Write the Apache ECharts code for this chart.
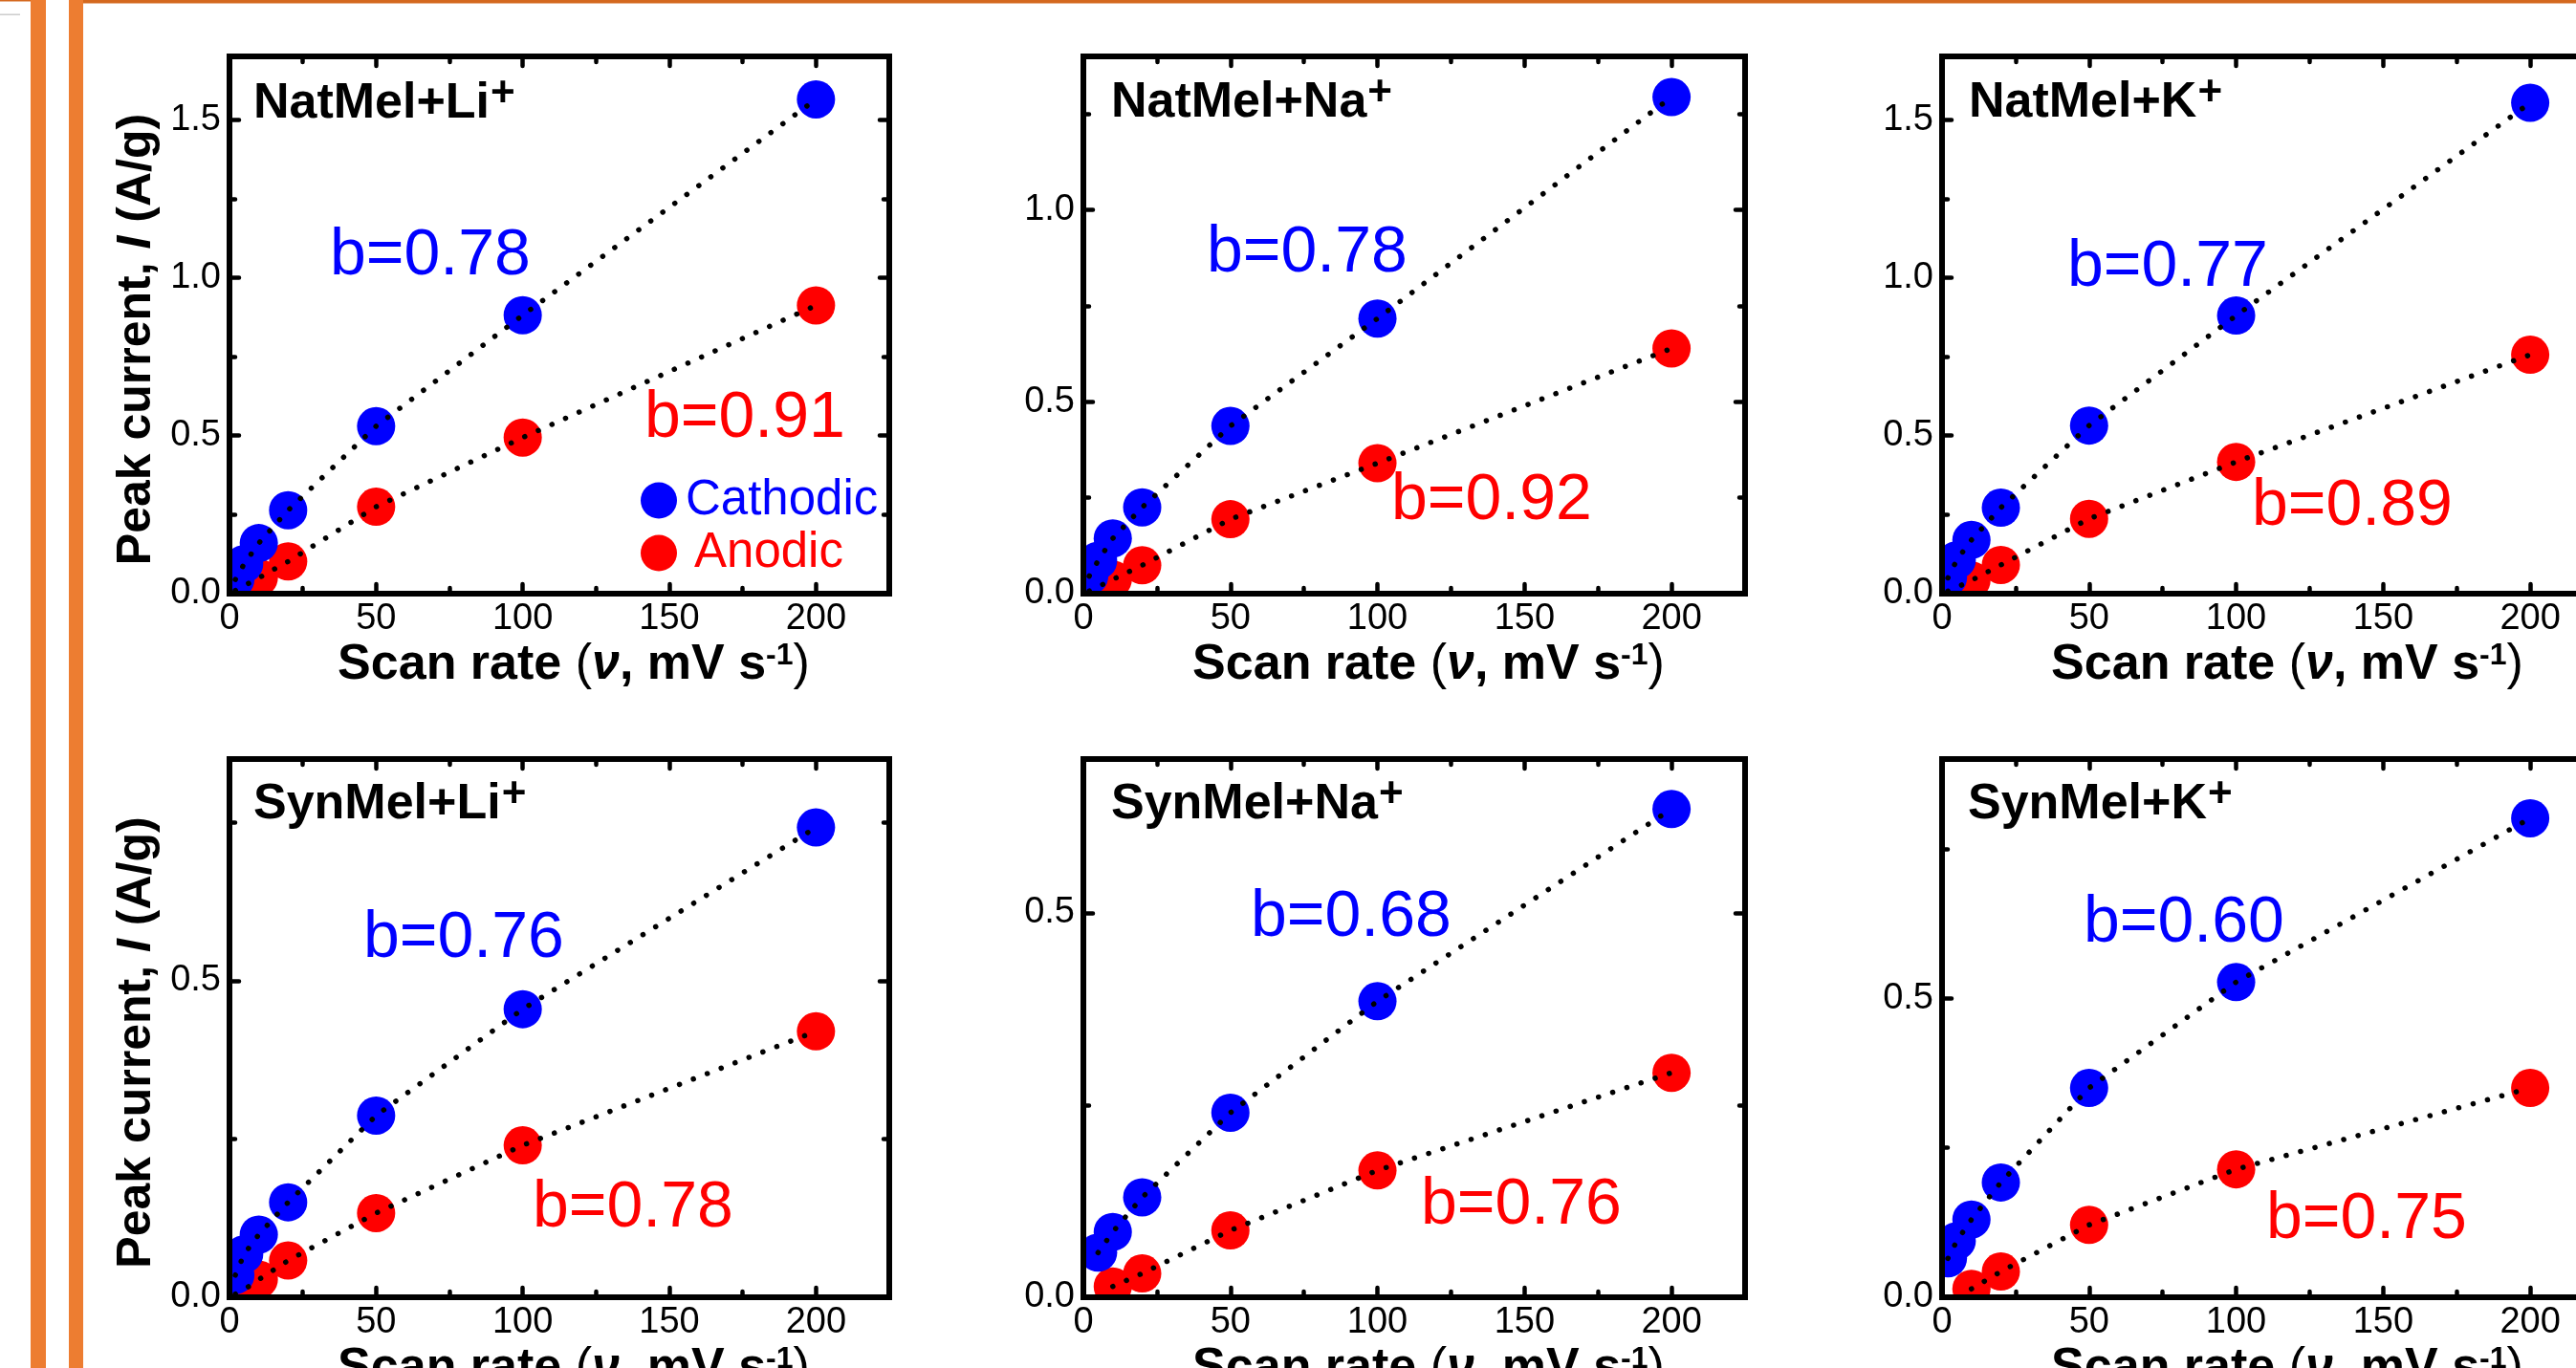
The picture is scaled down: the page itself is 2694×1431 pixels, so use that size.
<!DOCTYPE html>
<html><head><meta charset="utf-8">
<script src="https://cdn.jsdelivr.net/npm/echarts@6/dist/echarts.min.js"></script>
<style>html,body{margin:0;padding:0;background:#fff}#c{width:2694px;height:1431px}</style>
</head><body><div id="c"></div>
<script>
// ---------------- DATA ----------------
const scanRates = [2, 5, 10, 20, 50, 100, 200];
const panelTitles = ['NatMel+Li', 'NatMel+Na', 'NatMel+K', 'SynMel+Li', 'SynMel+Na', 'SynMel+K'];
const xTickLabels = [0, 50, 100, 150, 200];
const yMaxes = [1.7, 1.4, 1.7, 0.85, 0.7, 0.9];

const cathodicNatLi = [0.045, 0.094, 0.160, 0.264, 0.530, 0.881, 1.564];
const anodicNatLi   = [0.010, 0.025, 0.050, 0.102, 0.275, 0.494, 0.912];
const cathodicNatNa = [0.046, 0.086, 0.144, 0.225, 0.437, 0.717, 1.294];
const anodicNatNa   = [0.007, 0.018, 0.037, 0.074, 0.194, 0.340, 0.639];
const cathodicNatK  = [0.050, 0.106, 0.170, 0.272, 0.532, 0.880, 1.553];
const anodicNatK    = [0.008, 0.020, 0.042, 0.091, 0.237, 0.417, 0.756];
const cathodicSynLi = [0.035, 0.068, 0.099, 0.150, 0.287, 0.455, 0.742];
const anodicSynLi   = [0.005, 0.012, 0.028, 0.058, 0.133, 0.240, 0.420];
const cathodicSynNa = [null, 0.058, 0.085, 0.130, 0.240, 0.385, 0.635];
const anodicSynNa   = [null, null, 0.014, 0.031, 0.087, 0.165, 0.292];
const cathodicSynK  = [0.065, 0.094, 0.130, 0.192, 0.350, 0.527, 0.801];
const anodicSynK    = [null, null, 0.014, 0.043, 0.121, 0.214, 0.350];

const bCathodic = ['b=0.78', 'b=0.78', 'b=0.77', 'b=0.76', 'b=0.68', 'b=0.60'];
const bAnodic   = ['b=0.91', 'b=0.92', 'b=0.89', 'b=0.78', 'b=0.76', 'b=0.75'];

const cathodicSets = [cathodicNatLi, cathodicNatNa, cathodicNatK, cathodicSynLi, cathodicSynNa, cathodicSynK];
const anodicSets   = [anodicNatLi, anodicNatNa, anodicNatK, anodicSynLi, anodicSynNa, anodicSynK];

// ---------------- LAYOUT / STYLE ----------------
const FONT = '"Liberation Sans", Arial, Helvetica, sans-serif';
const BLUE = '#0000ff', RED = '#ff0000';
const colL = [240, 1133, 2031], colW = [690, 692, 692];
const rowT = [59, 794], rowH = [562, 563];
const titleX = [265, 1162, 2059, 265, 1162, 2058];
const titleBase = [125, 124, 124, 858, 858, 858];
const bCathPos = [[345, 268], [1262, 265], [2162, 280], [380, 982], [1308, 960], [2179, 966]];
const bAnodPos = [[674, 438], [1455, 524], [2355, 530], [557, 1264], [1486, 1261], [2370, 1276]];
const TITLE_SIZE = 52, SUP_SIZE = 44, TICK_SIZE = 38;

const mctx = document.createElement('canvas').getContext('2d');
mctx.font = 'bold ' + TITLE_SIZE + 'px "Liberation Sans"';

const pairs = arr => scanRates.map((x, i) => [x, arr[i]]).filter(p => p[1] !== null);

const grids = [], xAxes = [], yAxes = [], series = [], graphics = [];

const xName = '{b|Scan rate }{p|(}{i|ν}{b|, mV s}{s|-1}{p|)}';
const yName = '{b|Peak current, }{i|I}{b| (A/g)}';
const xRich = {
  b: {fontSize: 52, fontWeight: 'bold', fontFamily: FONT, color: '#000', lineHeight: 52},
  p: {fontSize: 52, fontWeight: 'normal', fontFamily: FONT, color: '#000', lineHeight: 52},
  i: {fontSize: 52, fontWeight: 'bold', fontStyle: 'italic', fontFamily: FONT, color: '#000', lineHeight: 52},
  s: {fontSize: 32, fontWeight: 'bold', fontFamily: FONT, color: '#000', lineHeight: 32, verticalAlign: 'top'}
};
const yRich = {
  b: {fontSize: 50, fontWeight: 'bold', fontFamily: FONT, color: '#000', lineHeight: 50},
  i: {fontSize: 50, fontWeight: 'bold', fontStyle: 'italic', fontFamily: FONT, color: '#000', lineHeight: 50}
};
const tickLabelStyle = {fontSize: TICK_SIZE, fontFamily: FONT, color: '#000', lineHeight: TICK_SIZE};

for (let g = 0; g < 6; g++) {
  const r = g < 3 ? 0 : 1, c = g % 3;
  grids.push({left: colL[c], top: rowT[r], width: colW[c], height: rowH[r], outerBoundsMode: 'none', containLabel: false});
  const ymax = yMaxes[g];
  const mkX = (pos, major) => {
    const ax = {
      gridIndex: g, type: 'value', min: 0, max: 225, interval: major ? 50 : 25, position: pos, z: 10,
      axisLine: {show: major, onZero: false, lineStyle: {color: '#000', width: 6, cap: 'square'}},
      axisTick: {show: true, inside: true, length: major ? 10 : 6, lineStyle: {color: '#000', width: 4.5, cap: 'round'}},
      axisLabel: Object.assign({show: major && pos === 'bottom', margin: 8, showMaxLabel: false,
                  formatter: v => (xTickLabels.indexOf(v) >= 0 ? String(v) : '')}, tickLabelStyle),
      splitLine: {show: false}, minorTick: {show: false}, minorSplitLine: {show: false}
    };
    if (major && pos === 'bottom') {
      ax.name = xName; ax.nameLocation = 'middle'; ax.nameGap = 49;
      ax.nameTextStyle = {fontSize: 52, fontWeight: 'bold', fontFamily: FONT, color: '#000', padding: [0, 0, 0, 30], rich: xRich};
    }
    return ax;
  };
  const mkY = (pos, major) => {
    const ax = {
      gridIndex: g, type: 'value', min: 0, max: ymax, interval: major ? 0.5 : 0.25, position: pos, z: 10,
      axisLine: {show: major, onZero: false, lineStyle: {color: '#000', width: 6, cap: 'square'}},
      axisTick: {show: true, inside: true, length: major ? 10 : 6, lineStyle: {color: '#000', width: 4.5, cap: 'round'}},
      axisLabel: Object.assign({show: major && pos === 'left', margin: 9, showMaxLabel: false,
                  formatter: v => v.toFixed(1)}, tickLabelStyle),
      splitLine: {show: false}, minorTick: {show: false}, minorSplitLine: {show: false}
    };
    if (major && pos === 'left' && c === 0) {
      ax.name = yName; ax.nameLocation = 'middle'; ax.nameGap = 72; ax.nameRotate = 90;
      ax.nameTextStyle = {fontSize: 50, fontWeight: 'bold', fontFamily: FONT, color: '#000', padding: [0, 30, 0, 0], rich: yRich};
    }
    return ax;
  };
  xAxes.push(mkX('bottom', true), mkX('bottom', false), mkX('top', true), mkX('top', false));
  yAxes.push(mkY('left', true), mkY('left', false), mkY('right', true), mkY('right', false));

  const ai = g * 4;
  const circleSeries = (name, arr, color) => ({
    type: 'custom', name: name, coordinateSystem: 'cartesian2d', xAxisIndex: ai, yAxisIndex: ai,
    clip: true, z: 2, silent: true, itemStyle: {color: color},
    data: pairs(arr), encode: {x: 0, y: 1},
    renderItem: (params, api) => {
      const p = api.coord([api.value(0), api.value(1)]);
      return {type: 'circle', shape: {cx: p[0], cy: p[1], r: 20}, style: {fill: color}};
    }
  });
  const fitSeries = (name, arr) => ({
    type: 'line', name: name, xAxisIndex: ai, yAxisIndex: ai, data: pairs(arr),
    showSymbol: false, symbol: 'none', clip: true, z: 3, silent: true,
    lineStyle: {color: '#000', width: 5.5, type: [0.1, 15.5], cap: 'round'}
  });
  series.push(circleSeries('Anodic', anodicSets[g], RED));
  series.push(circleSeries('Cathodic', cathodicSets[g], BLUE));
  series.push(fitSeries('fitA' + g, anodicSets[g]));
  series.push(fitSeries('fitC' + g, cathodicSets[g]));

  // panel title with superscript +
  const tw = mctx.measureText(panelTitles[g]).width;
  graphics.push({
    type: 'text', x: titleX[g], y: titleBase[g] - 16, z: 20, silent: true,
    style: {text: panelTitles[g], fontSize: TITLE_SIZE, fontWeight: 'bold', fontFamily: FONT, fill: '#000', align: 'left', verticalAlign: 'middle'}
  });
  graphics.push({
    type: 'text', x: titleX[g] + tw + 1, y: titleBase[g] - 26, z: 20, silent: true,
    style: {text: '+', fontSize: SUP_SIZE, fontWeight: 'bold', fontFamily: FONT, fill: '#000', align: 'left', verticalAlign: 'middle'}
  });
  graphics.push({type: 'text', x: bCathPos[g][0], y: bCathPos[g][1], z: 20, silent: true,
    style: {text: bCathodic[g], fontSize: 68, fontFamily: FONT, fill: BLUE, align: 'left', verticalAlign: 'middle'}});
  graphics.push({type: 'text', x: bAnodPos[g][0], y: bAnodPos[g][1], z: 20, silent: true,
    style: {text: bAnodic[g], fontSize: 68, fontFamily: FONT, fill: RED, align: 'left', verticalAlign: 'middle'}});
}

// slide decorations
graphics.push({type: 'rect', z: 30, silent: true, shape: {x: 32, y: 0, width: 16, height: 1431}, style: {fill: '#ED7D31'}});
graphics.push({type: 'rect', z: 30, silent: true, shape: {x: 72, y: 0, width: 15, height: 1431}, style: {fill: '#ED7D31'}});
graphics.push({type: 'rect', z: 30, silent: true, shape: {x: 87, y: 0, width: 2607, height: 3.5}, style: {fill: '#D4681E'}});
graphics.push({type: 'rect', z: 30, silent: true, shape: {x: 0, y: 0, width: 32, height: 1.5}, style: {fill: '#D4681E'}});
graphics.push({type: 'rect', z: 30, silent: true, shape: {x: 0, y: 14.5, width: 21, height: 1.5}, style: {fill: '#cccccc'}});

const chart = echarts.init(document.getElementById('c'), null, {renderer: 'canvas'});
chart.setOption({
  animation: false,
  backgroundColor: '#ffffff',
  textStyle: {fontFamily: FONT},
  grid: grids,
  xAxis: xAxes,
  yAxis: yAxes,
  legend: {
    orient: 'vertical', left: 665, top: 493, itemWidth: 38, itemHeight: 38, itemGap: 4,
    icon: 'circle', selectedMode: false, z: 20,
    data: [
      {name: 'Cathodic', itemStyle: {color: BLUE}, textStyle: {color: BLUE}},
      {name: 'Anodic', itemStyle: {color: RED}, textStyle: {color: RED}}
    ],
    formatter: n => (n === 'Cathodic' ? '{c|Cathodic}' : '{a|Anodic}'),
    textStyle: {
      fontSize: 51, fontFamily: FONT,
      rich: {
        c: {fontSize: 51, fontFamily: FONT, color: BLUE, padding: [0, 0, 0, 4]},
        a: {fontSize: 51, fontFamily: FONT, color: RED, padding: [0, 0, 0, 13]}
      }
    }
  },
  series: series,
  graphic: graphics
});
</script></body></html>
